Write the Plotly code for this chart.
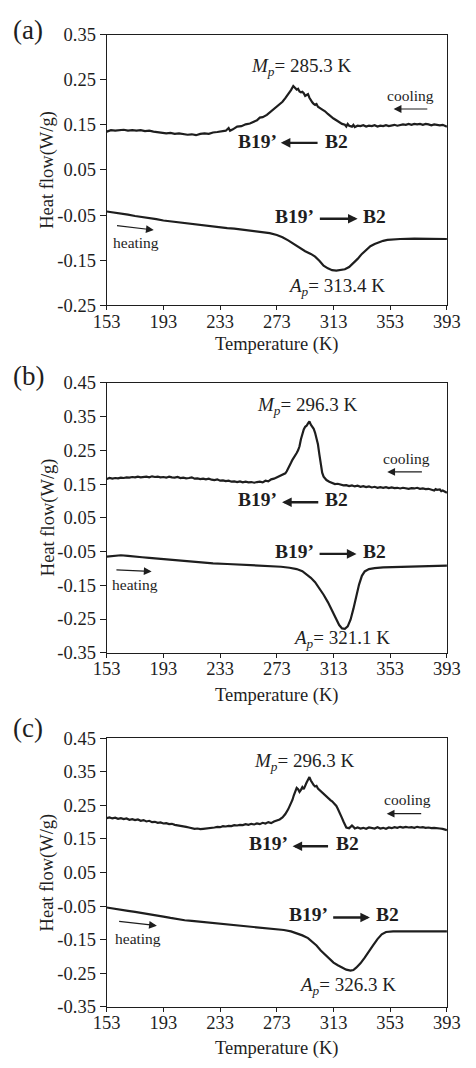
import plotly.graph_objects as go

# ---------------- data ----------------
a_cool_T = [153,156,159,162,165,168,171,174,177,180,183,186,189,192,195,198,201,204,207,210,213,216,219,222,225,228,231,234,237,239,240,242,245,248,251,254,257,259,261,263,266,269,271,273,275,277,279,281,283,284.6,286,287,288,289,290,291,292,293,294,295,296,297,298,299,300,301,302,304,306,307,309,311,313,315,317,319,321,322,323,324,326,327,328,330,332,334,336,338,340,342,344,346,348,350,352,354,356,358,360,362,364,366,368,370,372,374,376,378,380,382,384,386,388,390,392,393]
a_cool_H = [.135,.138,.137,.138,.139,.137,.138,.137,.138,.136,.137,.135,.134,.133,.131,.132,.130,.131,.129,.128,.129,.127,.130,.131,.130,.133,.134,.136,.137,.143,.137,.140,.146,.147,.151,.153,.158,.160,.166,.167,.172,.180,.184,.189,.194,.201,.209,.217,.227,.236,.232,.228,.230,.224,.222,.223,.220,.214,.216,.218,.210,.203,.200,.196,.194,.196,.190,.186,.183,.180,.174,.168,.164,.160,.156,.152,.150,.146,.152,.148,.146,.150,.145,.148,.147,.149,.146,.148,.147,.149,.146,.148,.147,.149,.147,.148,.150,.148,.149,.151,.150,.152,.150,.152,.151,.152,.150,.152,.151,.149,.151,.150,.149,.150,.148,.146]
a_heat_T = [153,158,163,168,173,178,183,188,193,198,203,208,213,218,223,228,233,238,243,248,253,258,263,268,273,277,281,285,289,293,297,300,303,306,309,312,315,318,321,324,327,330,333,336,339,342,345,348,351,355,360,370,380,393]
a_heat_H = [-.042,-.044,-.046,-.049,-.052,-.054,-.056,-.059,-.062,-.064,-.066,-.068,-.070,-.072,-.074,-.075,-.077,-.079,-.080,-.082,-.083,-.085,-.087,-.090,-.094,-.099,-.106,-.114,-.122,-.130,-.136,-.142,-.151,-.162,-.168,-.172,-.173,-.172,-.170,-.165,-.157,-.147,-.136,-.127,-.119,-.114,-.110,-.107,-.105,-.104,-.103,-.102,-.102,-.103]

b_cool_T = [153,155,157,159,161,163,165,167,169,171,173,175,177,179,181,183,185,187,189,191,193,195,197,199,201,203,205,207,209,211,213,215,217,219,221,223,225,227,229,231,233,235,237,239,241,243,245,247,249,251,253,255,257,259,261,263,265,267,269,271,273,275,277,279,280,281,282,283,284,285,286,287,288,289,290,291,292,293,294,295,296,297,298,299,300,301,302,303,304,305,306,307,308,310,312,314,316,318,320,322,324,326,328,330,332,334,336,338,340,342,344,346,348,350,352,354,356,358,360,362,364,366,368,370,372,374,376,378,380,382,384,385,386,388,389,390,391,392,393]
b_cool_H = [.165,.168,.166,.168,.167,.169,.168,.170,.169,.171,.170,.172,.170,.171,.172,.170,.173,.171,.172,.170,.171,.169,.172,.170,.169,.171,.168,.169,.167,.168,.170,.166,.167,.165,.166,.164,.166,.163,.162,.164,.160,.161,.159,.160,.157,.158,.156,.158,.155,.157,.155,.156,.154,.156,.157,.155,.160,.158,.164,.166,.170,.172,.178,.182,.188,.195,.205,.213,.222,.228,.236,.242,.250,.262,.283,.300,.312,.320,.323,.330,.336,.326,.320,.314,.302,.288,.268,.238,.208,.184,.172,.166,.162,.157,.154,.150,.151,.148,.146,.147,.144,.146,.143,.145,.142,.144,.141,.143,.140,.142,.139,.141,.139,.141,.138,.140,.138,.139,.137,.139,.138,.136,.138,.137,.139,.136,.137,.135,.136,.134,.131,.135,.133,.134,.129,.131,.128,.126,.124]
b_heat_T = [153,158,163,168,173,178,183,188,193,198,208,218,228,238,248,258,268,276,282,287,291,294,297,300,303,306,309,312,315,317,319,321,323,325,327,329,331,333,335,338,342,348,355,365,375,385,393]
b_heat_H = [-.065,-.062,-.061,-.063,-.064,-.067,-.069,-.071,-.073,-.075,-.078,-.082,-.085,-.087,-.089,-.090,-.092,-.095,-.098,-.102,-.108,-.117,-.128,-.141,-.158,-.178,-.200,-.225,-.252,-.268,-.278,-.279,-.272,-.252,-.220,-.183,-.148,-.122,-.109,-.102,-.099,-.097,-.096,-.094,-.093,-.092,-.092]

c_cool_T = [153,155,157,159,161,163,165,167,169,171,173,175,177,179,181,183,185,187,189,191,193,195,197,199,201,203,205,207,209,211,213,215,217,219,221,223,225,227,229,231,233,235,237,239,241,243,245,247,249,251,253,255,257,259,261,263,265,267,269,271,273,275,277,279,281,283,284,285,286,287,288,289,290,291,292,293,294,295,296,297,298,299,300,301,302,303,304,305,306,307,308,309,310,311,312,313,314,315,316,317,318,319,320,321,322,323,324,325,326,327,328,330,332,334,336,338,340,342,344,346,348,350,352,354,356,358,360,362,364,366,368,370,372,374,376,378,380,382,384,386,388,390,392,393]
c_cool_H = [.212,.214,.211,.213,.210,.212,.209,.211,.207,.209,.206,.208,.204,.206,.202,.204,.200,.201,.198,.199,.196,.197,.194,.195,.192,.191,.189,.188,.186,.184,.182,.180,.181,.179,.180,.181,.180,.183,.184,.186,.185,.188,.187,.189,.188,.191,.190,.192,.191,.194,.192,.195,.193,.196,.194,.198,.196,.200,.197,.202,.205,.208,.214,.224,.238,.256,.266,.280,.292,.302,.298,.290,.296,.304,.298,.310,.318,.326,.334,.324,.316,.310,.306,.308,.300,.296,.292,.288,.284,.280,.274,.270,.268,.265,.262,.258,.254,.248,.240,.232,.222,.212,.202,.192,.184,.183,.182,.186,.190,.186,.181,.184,.181,.183,.180,.184,.182,.181,.185,.181,.183,.180,.184,.182,.185,.183,.186,.184,.186,.184,.185,.183,.186,.184,.185,.183,.184,.182,.183,.181,.181,.180,.178,.176]
c_heat_T = [153,158,163,168,173,178,183,188,193,198,203,208,213,218,223,228,233,238,243,248,253,258,263,268,273,278,283,287,291,295,298,301,304,307,310,313,316,319,322,325,327,329,332,335,338,341,344,347,350,355,365,375,382,383,385,393]
c_heat_H = [-.054,-.058,-.061,-.064,-.067,-.070,-.073,-.077,-.081,-.085,-.089,-.092,-.094,-.096,-.098,-.100,-.102,-.104,-.106,-.108,-.110,-.112,-.114,-.116,-.118,-.121,-.125,-.130,-.137,-.145,-.155,-.167,-.182,-.195,-.207,-.218,-.226,-.233,-.239,-.242,-.240,-.233,-.220,-.203,-.186,-.166,-.148,-.134,-.127,-.125,-.125,-.125,-.124,-.126,-.125,-.125]

x_ticks = [153,193,233,273,313,353,393]
a_yticks = [0.35,0.25,0.15,0.05,-0.05,-0.15,-0.25]
bc_yticks = [0.45,0.35,0.25,0.15,0.05,-0.05,-0.15,-0.25,-0.35]

panel_labels = ["(a)", "(b)", "(c)"]
mp_texts = ["285.3", "296.3", "296.3"]
ap_texts = ["313.4", "321.1", "326.3"]

# ---------------- figure ----------------
FONT = "Liberation Serif"
INK = "#1e1e1e"
W, H = 476, 1068
TICKF = 18.5

def py(px):
    return 1 - px / H

xdom = [98.5 / W, 460 / W]
ydoms = [[py(301), py(25)], [py(655), py(380)], [py(1016), py(742)]]
yranges = [[-0.25, 0.35], [-0.35, 0.45], [-0.35, 0.45]]
yticks = [a_yticks, bc_yticks, bc_yticks]

fig = go.Figure()
series = [(a_cool_T, a_cool_H, a_heat_T, a_heat_H),
          (b_cool_T, b_cool_H, b_heat_T, b_heat_H),
          (c_cool_T, c_cool_H, c_heat_T, c_heat_H)]

for i, (ct, ch, ht, hh) in enumerate(series):
    xa = "x" if i == 0 else f"x{i+1}"
    ya = "y" if i == 0 else f"y{i+1}"
    for T, Hf in ((ct, ch), (ht, hh)):
        fig.add_trace(go.Scatter(x=T, y=Hf, mode="lines", xaxis=xa, yaxis=ya,
                                 line=dict(color=INK, width=2.2), showlegend=False,
                                 hoverinfo="skip"))

layout = dict(width=W, height=H, margin=dict(l=0, r=0, t=0, b=0),
              paper_bgcolor="white", plot_bgcolor="white",
              font=dict(family=FONT, color=INK, size=TICKF), showlegend=False)

for i in range(3):
    sx = "" if i == 0 else str(i + 1)
    layout[f"xaxis{sx}"] = dict(domain=xdom, range=[153, 393], tickvals=x_ticks,
                                ticktext=[str(v) for v in x_ticks],
                                showline=True, linecolor=INK, linewidth=1.2, mirror=True,
                                ticks="outside", ticklen=4, tickcolor=INK, showgrid=False,
                                zeroline=False, anchor=f"y{sx}", ticklabelstandoff=-5,
                                tickfont=dict(family=FONT, size=TICKF, color=INK))
    layout[f"yaxis{sx}"] = dict(domain=ydoms[i], range=yranges[i], tickvals=yticks[i],
                                ticktext=[f"{v:.2f}" for v in yticks[i]],
                                showline=True, linecolor=INK, linewidth=1.2, mirror=True,
                                ticks="outside", ticklen=6, tickcolor=INK, showgrid=False,
                                zeroline=False, anchor=f"x{sx}",
                                tickfont=dict(family=FONT, size=TICKF, color=INK))
fig.update_layout(**layout)

ann = []
label_y = [20, 373, 732]
xtitle_y = [341, 699, 1058]
ytitle_y = [163, 517, 879]
for i in range(3):
    ann.append(dict(xref="paper", yref="paper", x=-0.006, y=py(label_y[i]), xanchor="left",
                    yanchor="middle", text=panel_labels[i], showarrow=False,
                    font=dict(family=FONT, size=27, color=INK)))
    ann.append(dict(xref="paper", yref="paper", x=279 / W, y=py(xtitle_y[i]), xanchor="center",
                    yanchor="middle", text="Temperature (K)", showarrow=False,
                    font=dict(family=FONT, size=18.5, color=INK)))
    ann.append(dict(xref="paper", yref="paper", x=36 / W, y=py(ytitle_y[i]), xanchor="center",
                    yanchor="middle", text="Heat flow(W/g)", textangle=-90, showarrow=False,
                    font=dict(family=FONT, size=18.5, color=INK)))

pos = [
    dict(mp=(290.2, 0.277), cool=(367.6, 0.214), carr=((380.2, 0.185), (355.4, 0.185)),
         ub19=(259.2, 0.114), ub2=(315.0, 0.114), uarr=((302.8, 0.110), (275.8, 0.110)),
         lb19=(285.7, -0.053), lb2=(341.7, -0.053), larr=((302.3, -0.058), (330.0, -0.058)),
         heat=(173.6, -0.111), harr=((159.2, -0.073), (186.2, -0.083)), ap=(315.0, -0.209)),
    dict(mp=(294.4, 0.382), cool=(364.2, 0.225), carr=((376.4, 0.186), (350.9, 0.186)),
         ub19=(259.6, 0.103), ub2=(315.4, 0.103), uarr=((303.3, 0.096), (276.7, 0.096)),
         lb19=(285.5, -0.049), lb2=(341.6, -0.049), larr=((302.1, -0.057), (329.2, -0.057)),
         heat=(173.2, -0.149), harr=((158.8, -0.104), (184.7, -0.109)), ap=(318.8, -0.310)),
    dict(mp=(292.3, 0.379), cool=(364.9, 0.267), carr=((375.9, 0.225), (350.5, 0.225)),
         ub19=(266.8, 0.135), ub2=(322.8, 0.135), uarr=((310.2, 0.128), (284.1, 0.128)),
         lb19=(295.1, -0.076), lb2=(351.1, -0.076), larr=((311.7, -0.084), (338.7, -0.084)),
         heat=(175.1, -0.147), harr=((160.7, -0.095), (188.4, -0.108)), ap=(322.8, -0.289)),
]

for i, p in enumerate(pos):
    xr = "x" if i == 0 else f"x{i+1}"
    yr = "y" if i == 0 else f"y{i+1}"
    def txt(xy, text, size, bold=False):
        t = f"<b>{text}</b>" if bold else text
        ann.append(dict(xref=xr, yref=yr, x=xy[0], y=xy[1], text=t, showarrow=False,
                        xanchor="center", yanchor="middle",
                        font=dict(family=FONT, size=size, color=INK)))
    def arrow(tail, head, width, size):
        ann.append(dict(xref=xr, yref=yr, axref=xr, ayref=yr, x=head[0], y=head[1],
                        ax=tail[0], ay=tail[1], text="", showarrow=True, arrowhead=2,
                        arrowsize=size, arrowwidth=width, arrowcolor=INK))
    txt(p["mp"], f"<i>M</i><sub><i>p</i></sub>= {mp_texts[i]} K", 19)
    txt(p["ap"], f"<i>A</i><sub><i>p</i></sub>= {ap_texts[i]} K", 19)
    txt(p["cool"], "cooling", 15.5)
    txt(p["heat"], "heating", 15.5)
    txt(p["ub19"], "B19’", 19.5, True)
    txt(p["ub2"], "B2", 19.5, True)
    txt(p["lb19"], "B19’", 19.5, True)
    txt(p["lb2"], "B2", 19.5, True)
    arrow(p["carr"][0], p["carr"][1], 1.2, 1.3)
    arrow(p["harr"][0], p["harr"][1], 1.2, 1.3)
    arrow(p["uarr"][0], p["uarr"][1], 2.4, 0.8)
    arrow(p["larr"][0], p["larr"][1], 2.4, 0.8)

fig.update_layout(annotations=ann)
fig.write_html("out.html")
